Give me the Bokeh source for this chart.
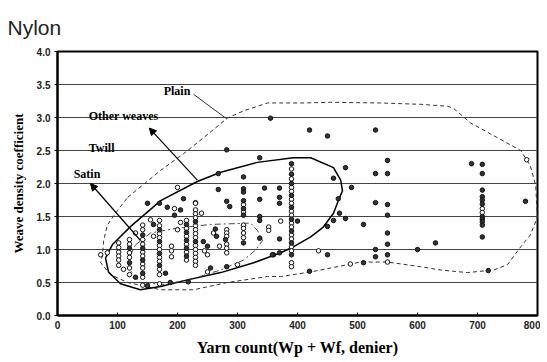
from bokeh.plotting import figure
from bokeh.models import Label, Arrow, NormalHead, FixedTicker, Range1d, NumeralTickFormatter
from bokeh.embed import file_html
from bokeh.resources import INLINE

# ---------------- data (denier, weave density coefficient) ----------------
x_ticks = [0, 100, 200, 300, 400, 500, 600, 700, 800]
y_ticks = [0.0, 0.5, 1.0, 1.5, 2.0, 2.5, 3.0, 3.5, 4.0]

# scattered filled points
scat_filled_x = [355, 282, 337, 268, 310, 420, 450, 530, 550, 480, 530, 550, 460, 490, 468, 470,
                 530, 550, 550, 480, 460, 450, 510, 550, 550, 530, 550, 530, 450, 600, 630, 420,
                 510, 718, 690, 780, 268, 345, 370, 370, 370, 337, 282, 287, 400, 370, 370, 360,
                 210, 150, 170, 183, 263, 188, 180, 218, 282, 358, 337, 337, 337,
                 250, 243, 280, 265, 195, 205, 160, 130, 150, 255]
scat_filled_y = [2.99, 2.51, 2.39, 2.15, 2.10, 2.81, 2.72, 2.81, 2.35, 2.24, 2.15, 2.15, 2.08, 1.94, 1.77, 1.55,
                 1.71, 1.68, 1.52, 1.47, 1.44, 1.35, 1.38, 1.25, 1.08, 1.00, 0.92, 0.89, 0.92, 1.00, 1.10, 0.67,
                 0.80, 0.68, 2.30, 1.73, 1.91, 1.93, 1.93, 1.79, 1.70, 1.76, 1.73, 1.65, 1.43, 1.16, 0.95, 0.92,
                 1.77, 1.70, 1.70, 1.64, 1.31, 0.50, 0.64, 0.51, 0.74, 0.92, 1.50, 1.44, 1.17,
                 1.05, 1.12, 1.15, 1.20, 1.52, 1.60, 1.38, 0.58, 0.45, 0.72]

# scattered open points
scat_open_x = [200, 230, 435, 488, 550, 782, 372, 352, 352, 250, 300, 72, 83,
               190, 190, 190, 200, 205, 245, 250, 260, 270, 155, 160, 130, 110, 240, 195]
scat_open_y = [1.94, 1.71, 0.98, 0.78, 0.81, 2.36, 1.43, 1.34, 1.29, 0.66, 0.77, 0.92, 0.95,
               1.05, 0.98, 0.89, 1.30, 1.41, 0.98, 0.92, 1.25, 1.05, 1.45, 1.20, 1.25, 0.70, 1.55, 1.62]

# stacked columns of points
col102_open = [1.10, 1.03, 0.96, 0.90, 0.84, 0.76]
col120_open = [1.15, 1.08, 0.95, 0.88, 0.72, 0.62]
col120_filled = [1.02, 0.80]
col142_open = [1.37, 1.30, 1.15, 1.08, 0.96, 0.90, 0.78, 0.72, 0.58, 0.46]
col142_filled = [1.22, 1.02, 0.84, 0.64]
col170_open = [1.44, 1.36, 1.24, 1.18, 1.06, 1.00, 0.88, 0.82, 0.70, 0.62, 0.48]
col170_filled = [1.30, 1.12, 0.94, 0.76]
col215_open = [1.44, 1.32, 1.20, 1.08, 0.96, 0.84]
col215_filled = [1.38, 1.26, 1.14, 1.02, 0.90]
col230_open = [1.70, 1.60, 1.54, 1.48, 1.36, 1.30, 1.24, 1.18, 1.06, 1.00, 0.94, 0.88, 0.82, 0.76]
col230_filled = [1.42, 1.12]
col282_open = [1.30, 1.25, 1.20, 1.08, 1.02, 0.95]
col310_open = [1.68, 1.57, 1.37, 1.32, 1.25, 1.18]
col310_filled = [1.92, 1.87, 1.74, 1.62, 1.52, 1.10]
col390_open = [2.22, 2.07, 1.94, 1.88, 1.76, 1.70, 1.58, 1.52, 1.40, 1.34, 1.22, 1.16, 1.04, 0.98, 0.80, 0.74]
col390_filled = [2.30, 2.14, 2.00, 1.82, 1.64, 1.46, 1.28, 1.10, 0.92]
col708_open = [1.62, 1.56]
col708_filled = [2.29, 2.15, 1.90, 1.80, 1.75, 1.69, 1.50, 1.46, 1.42, 1.37, 1.19]

# outlines
plain_x = [117, 172, 210, 243, 283, 310, 350, 405, 455, 538, 605, 650, 660, 688, 722, 772, 788, 797, 800,
           788, 772, 750, 727, 683, 638, 605, 550, 505, 467, 422, 372, 350, 283, 227, 172, 117, 88, 72,
           75, 77, 83, 100, 117]
plain_y = [1.79, 2.20, 2.45, 2.69, 2.99, 3.10, 3.22, 3.22, 3.23, 3.22, 3.20, 3.17, 3.14, 2.92, 2.75, 2.50,
           2.27, 1.97, 1.49, 1.22, 1.04, 0.77, 0.69, 0.65, 0.69, 0.74, 0.81, 0.81, 0.74, 0.66, 0.59, 0.59,
           0.50, 0.39, 0.39, 0.50, 0.62, 0.80, 0.92, 1.14, 1.37, 1.59, 1.79]
twill_x = [80, 92, 122, 172, 233, 272, 333, 393, 422, 460, 472, 475, 468, 460, 443, 422, 393, 372, 327,
           272, 217, 172, 138, 105, 85, 80]
twill_y = [0.87, 1.08, 1.35, 1.74, 2.03, 2.17, 2.32, 2.39, 2.39, 2.24, 2.05, 1.89, 1.74, 1.55, 1.34, 1.19,
           1.04, 0.95, 0.80, 0.65, 0.54, 0.44, 0.39, 0.48, 0.66, 0.87]
satin_x = [130, 155, 197, 255, 322, 333, 342, 330, 310, 272, 230, 180, 138, 118, 122, 130]
satin_y = [1.07, 1.25, 1.32, 1.38, 1.40, 1.29, 1.14, 0.99, 0.84, 0.69, 0.57, 0.47, 0.50, 0.72, 0.92, 1.07]

# annotation texts
note_texts = ["Plain", "Other weaves", "Twill", "Satin"]
note_x = [177, 52, 52, 27]
note_y = [3.40, 3.02, 2.54, 2.15]


def expand(x, ys):
    return [x] * len(ys), list(ys)


open_x, open_y = list(scat_open_x), list(scat_open_y)
for cx, ys in [(102, col102_open), (120, col120_open), (142, col142_open), (170, col170_open),
               (215, col215_open), (230, col230_open), (282, col282_open), (310, col310_open),
               (390, col390_open), (708, col708_open)]:
    a, b = expand(cx, ys)
    open_x += a
    open_y += b

filled_x, filled_y = list(scat_filled_x), list(scat_filled_y)
for cx, ys in [(120, col120_filled), (142, col142_filled), (170, col170_filled), (215, col215_filled),
               (230, col230_filled), (310, col310_filled), (390, col390_filled), (708, col708_filled)]:
    a, b = expand(cx, ys)
    filled_x += a
    filled_y += b

# ---------------- figure ----------------
p = figure(width=540, height=358, output_backend="svg", toolbar_location=None,
           x_range=Range1d(0, 800), y_range=Range1d(0, 4),
           min_border_left=57, min_border_right=3, min_border_top=51, min_border_bottom=42)
p.background_fill_color = "white"
p.border_fill_color = "white"
p.outline_line_color = "black"
p.outline_line_width = 2

p.title.text = "Nylon"
p.title.text_font = "Liberation Sans"
p.title.text_font_size = "21px"
p.title.text_font_style = "normal"
p.title.text_color = "#222222"
p.title.align = "left"
p.title.offset = -50
p.title.standoff = 26

p.xgrid.visible = False
p.ygrid.grid_line_color = "#444444"
p.ygrid.grid_line_width = 1
p.ygrid.ticker = FixedTicker(ticks=y_ticks)

p.xaxis.ticker = FixedTicker(ticks=x_ticks)
p.yaxis.ticker = FixedTicker(ticks=y_ticks)
p.yaxis.formatter = NumeralTickFormatter(format="0.0")

for ax in (p.xaxis, p.yaxis):
    ax.axis_line_color = "black"
    ax.axis_line_width = 2
    ax.minor_tick_line_color = None
    ax.major_label_text_font = "Liberation Sans"
    ax.major_label_text_font_size = "10px"
    ax.major_label_text_font_style = "bold"
    ax.major_label_text_color = "#222222"
    ax.axis_label_text_font = "Liberation Serif"
    ax.axis_label_text_font_style = "bold"
    ax.axis_label_text_color = "black"

p.xaxis.axis_label_text_font_size = "16px"
p.yaxis.axis_label_text_font_size = "13px"

p.xaxis.major_tick_in = 3
p.xaxis.major_tick_out = 0
p.xaxis.major_label_standoff = 5
p.xaxis.axis_label = "Yarn count(Wp + Wf, denier)"
p.xaxis.axis_label_standoff = 7

p.yaxis.major_tick_in = 0
p.yaxis.major_tick_out = 3
p.yaxis.major_label_standoff = 4
p.yaxis.axis_label = "Weave density coefficient"
p.yaxis.axis_label_standoff = 8

# outlines
p.line(plain_x, plain_y, line_color="#333333", line_width=1, line_dash="4 3")
p.line(twill_x, twill_y, line_color="black", line_width=1.5)
p.line(satin_x, satin_y, line_color="#444444", line_width=1, line_dash="6 3 2 3")

# points
p.scatter(open_x, open_y, marker="circle", size=4.5, fill_color="white",
          line_color="#111111", line_width=1)
p.scatter(filled_x, filled_y, marker="circle", size=4.5, fill_color="#333333",
          line_color="#111111", line_width=1)

# leader lines and arrows
p.segment(x0=[227], y0=[3.35], x1=[282], y1=[2.98], line_color="#333333", line_width=1)
p.add_layout(Arrow(end=NormalHead(size=7, fill_color="black", line_color="black"),
                   x_start=233, y_start=2.05, x_end=153, y_end=2.84,
                   line_color="black", line_width=1.2))
p.add_layout(Arrow(end=NormalHead(size=7, fill_color="black", line_color="black"),
                   x_start=138, y_start=1.14, x_end=55, y_end=2.0,
                   line_color="black", line_width=1.2))

for t, tx, ty in zip(note_texts, note_x, note_y):
    p.add_layout(Label(x=tx, y=ty, text=t, text_font="Liberation Serif", text_font_style="bold",
                       text_font_size="12px", text_baseline="middle", text_color="black"))

open("out.html", "w").write(file_html(p, INLINE))
